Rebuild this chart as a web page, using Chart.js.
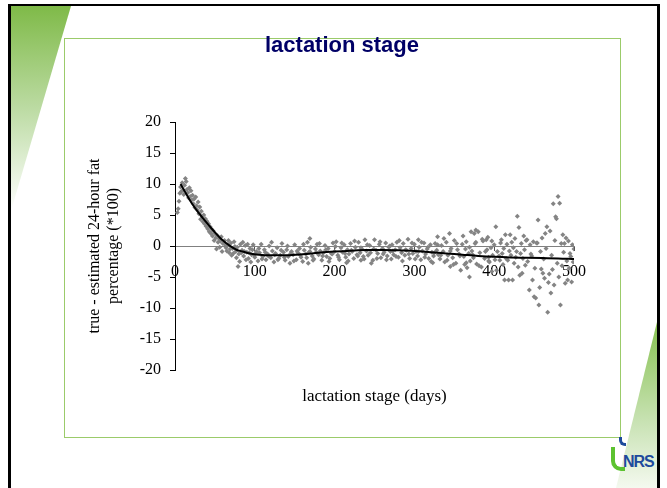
<!DOCTYPE html>
<html>
<head>
<meta charset="utf-8">
<script src="https://cdn.jsdelivr.net/npm/chart.js@4"></script>
<style>
  body { margin: 0; }
  #slide { position: relative; width: 667px; height: 488px; overflow: hidden; background: #fff; }
  .frame { position: absolute; left: 8px; top: 4px; width: 652px; height: 520px; box-sizing: border-box;
    border-style: solid; border-color: #000; border-width: 2px 3px 0 3px; }
  .tri-tl { position: absolute; left: 11px; top: 6px; width: 60px; height: 205px;
    background: linear-gradient(to bottom, #7fba48 0%, #bcdba3 50%, #ffffff 100%);
    clip-path: polygon(0 0, 100% 0, 0 100%); }
  .tri-br { position: absolute; left: 616px; top: 322px; width: 41px; height: 166px;
    background: linear-gradient(to bottom, #86c150 0%, #c8e2b3 60%, #f4f9ef 100%);
    clip-path: polygon(100% 0, 100% 100%, 0 100%); }
  .box { position: absolute; left: 64px; top: 38px; width: 557px; height: 400px; box-sizing: border-box;
    border: 1px solid #9bcb6a; }
  .logo { position: absolute; left: 623px; top: 453px; font: bold 16px "Liberation Sans", Arial, sans-serif;
    color: #1e4a9c; letter-spacing: -1px; white-space: nowrap; }
  .swoosh { position: absolute; left: 611px; top: 447px; width: 14px; height: 24px; box-sizing: border-box;
    border-left: 4px solid #5cc230; border-bottom: 4px solid #5cc230; border-bottom-left-radius: 10px; }
  .hook { position: absolute; left: 619px; top: 437px; width: 7px; height: 9px; box-sizing: border-box;
    border-left: 3px solid #1e4a9c; border-bottom: 3px solid #1e4a9c; border-bottom-left-radius: 6px; }
  canvas { position: absolute; left: 0; top: 0; }
</style>
</head>
<body>
<div id="slide">
  <div class="frame"></div>
  <div class="tri-tl"></div>
  <div class="box"></div>
  <div class="tri-br"></div>
  <div class="swoosh"></div>
  <div class="hook"></div>
  <div class="logo">NRS</div>
  <canvas id="myChart" width="667" height="488"></canvas>
</div>
<script>
// observations: lactation day and true - estimated fat (%*100)
const lactDays = [
  3, 4, 5, 6, 7, 8, 9, 10, 11, 12,
  13, 14, 15, 16, 17, 18, 19, 20, 21, 22,
  23, 24, 25, 26, 27, 28, 29, 30, 31, 32,
  33, 34, 35, 36, 37, 38, 39, 40, 41, 42,
  43, 44, 45, 46, 47, 48, 49, 50, 51, 52,
  53, 54, 55, 56, 57, 58, 59, 60, 62, 64,
  66, 68, 70, 71, 72, 74, 76, 78, 79, 80,
  81, 82, 84, 86, 88, 90, 92, 94, 96, 98,
  100, 102, 104, 106, 108, 110, 112, 114, 116, 118,
  120, 122, 124, 126, 128, 130, 132, 134, 136, 138,
  140, 142, 144, 146, 148, 150, 152, 154, 156, 158,
  160, 162, 164, 166, 167, 168, 169, 170, 172, 174,
  176, 178, 180, 182, 184, 186, 188, 190, 192, 194,
  196, 198, 200, 202, 204, 206, 208, 210, 212, 214,
  215, 216, 218, 220, 222, 224, 226, 228, 230, 232,
  233, 234, 236, 238, 240, 242, 244, 246, 248, 250,
  252, 254, 256, 258, 260, 262, 264, 266, 268, 270,
  271, 272, 274, 276, 278, 280, 282, 284, 286, 288,
  290, 292, 294, 296, 298, 300, 302, 304, 305, 306,
  308, 310, 312, 314, 316, 318, 320, 322, 323, 324,
  326, 328, 329, 330, 332, 334, 336, 338, 340, 342,
  344, 345, 346, 348, 350, 352, 354, 356, 358, 360,
  362, 363, 364, 365, 366, 368, 369, 370, 371, 372,
  374, 375, 376, 377, 378, 380, 382, 384, 386, 388,
  390, 391, 392, 393, 394, 396, 397, 398, 400, 401,
  402, 403, 404, 406, 407, 408, 409, 410, 411, 412,
  413, 414, 415, 416, 417, 418, 419, 420, 421, 422,
  423, 424, 425, 426, 427, 428, 429, 430, 431, 432,
  433, 434, 435, 436, 437, 438, 439, 440, 441, 442,
  444, 445, 446, 447, 448, 449, 450, 451, 452, 453,
  454, 455, 456, 457, 458, 459, 460, 461, 462, 463,
  464, 465, 466, 467, 468, 469, 470, 471, 472, 473,
  474, 475, 476, 477, 478, 479, 480, 481, 482, 483,
  484, 485, 486, 487, 488, 489, 490, 491, 492, 493,
  494, 495, 496, 497, 498, 499, 500,
  63, 65, 67, 69, 73, 75, 77, 83, 85, 87,
  89, 91, 93, 95, 97, 99,
  101, 105, 109, 113, 117, 121, 125, 129, 133, 137,
  141, 145, 149, 153, 157, 161, 165, 169, 173, 177,
  181, 185, 189, 193, 197, 201, 205, 209, 213, 217,
  221, 225, 229, 233, 237, 241, 245, 249, 253, 257,
  261, 265, 269, 273, 277, 281, 285, 289, 293, 297,
  301, 305, 309, 313, 317, 321, 325, 329, 333, 337,
  341, 345, 349, 353, 357, 361, 365, 369, 373, 377,
  381, 385, 389, 393, 397
];
const fatDiff = [
  5.4, 6.0, 7.2, 8.5, 9.5, 8.8, 10.2, 9.0, 8.3, 9.8,
  10.9, 10.4, 9.1, 8.6, 7.8, 9.4, 8.0, 8.9, 7.4, 8.2,
  6.8, 7.6, 6.2, 7.9, 6.5, 5.8, 7.1, 5.2, 6.3, 4.3,
  5.6, 4.8, 3.9, 5.0, 3.6, 4.4, 3.2, 4.0, 2.8, 3.6,
  2.3, 3.1, 2.0, 2.7, 1.6, 2.4, 0.9, 2.0, 1.3, -0.5,
  1.7, 0.6, 1.2, -0.2, 0.8, 1.5, -0.9, 0.4, 0.9, -0.3,
  0.2, -1.1, 0.5, -1.5, -0.4, 0.7, -0.9, -0.2, -3.3, -1.3,
  -2.5, 0.3, -0.7, -1.6, 0.1, -1.0, -2.0, -0.4, -1.4, 0.2,
  -1.8, -0.9, -2.4, -1.1, 0.3, -1.7, -0.6, -2.2, -1.3, 0.0,
  -1.9, -0.8, -2.6, -1.2, -0.3, -2.0, -1.5, 0.4, -1.0, -2.3,
  -0.6, -1.7, -2.8, -0.9, -1.4, 0.2, -2.2, -1.1, -0.4, -1.8,
  -2.5, -0.7, -1.3, 0.6, -2.8, -1.0, 1.2, -0.2, -1.6, -2.1,
  -0.5, 0.3, -1.4, -0.8, -2.3, -1.1, 0.1, -1.7, -0.4, -2.0,
  -1.2, 0.5, -0.9, 0.7, -1.5, -2.2, -0.3, -1.0, 0.2, -1.8,
  -2.7, -0.6, -1.3, 0.4, -0.9, -2.0, -0.2, -1.4, 0.6, -1.1,
  -2.3, -0.5, -1.7, 1.0, -0.8, -1.5, 0.1, -2.8, -2.3, 1.0,
  -0.7, -1.2, 0.3, -1.9, -0.4, -1.0, 0.5, -1.6, -0.2, -0.9,
  -2.1, 0.2, -1.4, -0.6, 0.6, -1.8, -0.3, -1.1, 0.4, -1.5,
  -0.7, 1.1, -2.0, -0.4, -1.2, 0.3, -0.9, -1.6, 1.0, -0.2,
  -2.2, -0.8, 0.5, -1.3, -0.5, -2.0, 0.2, -1.0, -2.7, -1.6,
  0.4, -0.7, 1.5, -1.4, -2.1, 0.1, -0.9, -2.6, 0.6, -1.5,
  2.0, -3.3, -0.4, -1.9, 0.9, -2.8, -0.6, -1.3, -3.9, 0.3,
  -1.7, -3.0, -0.5, 0.7, -3.5, -1.2, -5.0, -2.4, 2.3, -0.8,
  -1.9, 2.0, 0.4, 2.6, -2.9, 2.3, -1.1, -3.4, 0.8, -2.0,
  1.0, -0.6, 1.4, -1.8, -2.6, -0.3, -4.1, -1.5, 0.2, -2.2,
  3.1, -3.9, -0.9, -1.6, -2.3, 0.5, 1.0, -1.2, -3.0, -0.4,
  -5.5, 1.8, -2.0, 0.3, -2.3, -5.5, -0.8, 1.8, -1.5, 0.6,
  -5.5, -0.3, -2.8, 1.2, -1.8, -0.9, 4.8, -3.4, 3.0, -4.7,
  -1.2, 0.4, -4.4, -2.0, 1.6, -0.6, -3.1, 0.9, 1.0, -2.5,
  -7.1, 0.2, -1.3, -1.6, -5.5, 0.7, -8.2, -3.6, -8.4, 0.5,
  0.5, 4.2, -9.5, -6.7, -0.9, -3.7, 1.3, -4.4, -2.1, -5.2,
  2.0, -0.4, 3.1, -10.7, -5.9, -4.5, 2.4, -7.6, -1.5, -3.8,
  6.8, -6.3, 0.9, 4.7, 4.4, -2.8, 8.0, -5.0, 6.9, -9.5,
  0.4, -3.2, 1.8, -1.0, 0.4, -6.0, 1.3, -2.4, -5.5, 0.8,
  -3.6, -1.2, -1.7, -5.8, 0.2, -2.6, -0.5,
  0.2, -0.8, 0.9, -0.5, -1.2, -0.1, -1.9, -1.1, 0.6, -0.9,
  -2.2, 0.3, -1.1, -2.6, -0.6, -1.5,
  -1.2, -0.4, -2.1, -1.0, -1.6, 0.6, -1.4, -2.2, -0.7, -1.8,
  0.0, -1.2, -2.4, -0.8, -1.5, 0.3, -1.9, -0.9, -2.3, -1.0,
  0.4, -1.6, -0.6, -2.5, -1.3, -0.1, -1.8, 0.5, -1.2, -2.4,
  -0.7, 0.8, -1.6, -0.3, -2.1, 0.2, -1.1, -0.5, -2.0, 0.7,
  -1.3, -2.2, 0.0, -0.8, -1.7, 0.9, -2.4, -0.6, -1.3, 0.5,
  -2.1, -0.9, 0.6, -1.8, -0.2, -2.5, -1.1, 0.2, -1.5, 1.2,
  -2.3, -0.8, -3.0, 0.4, -1.6, 1.6, -2.7, -0.2, -1.4, 0.6,
  -3.2, 1.1, -0.9, -2.4, 0.8
];

// fitted curve
const trendDays = [7, 15, 21, 30, 38, 48, 59, 68, 77, 85, 94, 105, 120, 140, 160, 180,
  200, 220, 240, 260, 280, 300, 320, 340, 360, 380, 400, 420, 440, 460, 480, 500];
const trendVals = [10.0, 8.2, 6.9, 5.3, 4.0, 2.5, 1.0, 0.1, -0.6, -0.9, -1.2, -1.4, -1.5, -1.5, -1.35, -1.1,
  -0.9, -0.75, -0.65, -0.65, -0.7, -0.8, -1.0, -1.2, -1.4, -1.6, -1.75, -1.85, -1.9, -1.95, -2.0, -2.1];

const yTicks = [-20, -15, -10, -5, 0, 5, 10, 15, 20];
const xTicks = [0, 100, 200, 300, 400, 500];

const serif = "'Liberation Serif', 'Times New Roman', serif";

const scatterPts = lactDays.map((d, i) => ({ x: d, y: fatDiff[i] }));
const trendPts = trendDays.map((d, i) => ({ x: d, y: trendVals[i] }));

new Chart(document.getElementById("myChart"), {
  type: "scatter",
  data: {
    datasets: [
      {
        label: "fit",
        data: trendPts,
        showLine: true,
        borderColor: "#000",
        borderWidth: 2,
        pointRadius: 0,
        tension: 0.4,
        cubicInterpolationMode: "monotone",
        order: 0,
      },
      {
        label: "obs",
        data: scatterPts,
        pointStyle: "rectRot",
        pointRadius: 2.5,
        backgroundColor: "#848484",
        borderWidth: 0,
        order: 1,
      },
    ],
  },
  options: {
    responsive: false,
    animation: false,
    devicePixelRatio: 1,
    layout: { padding: { left: 17, right: 0, top: 0, bottom: 0 } },
    plugins: {
      legend: { display: false },
      tooltip: { enabled: false },
      title: {
        display: true,
        text: "lactation stage",
        color: "#000066",
        font: { family: "'Liberation Sans', Arial, sans-serif", size: 22, weight: "bold", lineHeight: 1.2 },
        padding: { top: 33, bottom: 62.6 },
      },
      subtitle: {
        display: true,
        position: "bottom",
        fullSize: false,
        text: "lactation stage (days)",
        color: "#000",
        font: { family: serif, size: 17, lineHeight: 1.2 },
        padding: { top: 16.8, bottom: 80.8 },
      },
    },
    scales: {
      x: {
        type: "linear",
        position: { y: 0 },
        min: 0,
        max: 500,
        afterBuildTicks: (axis) => { axis.ticks = xTicks.map((v) => ({ value: v })); },
        grid: { display: true, drawOnChartArea: false, drawTicks: true, tickLength: 4, color: "#555" },
        border: { color: "#808080", width: 1 },
        ticks: { color: "#000", font: { family: serif, size: 16 }, padding: 12, maxRotation: 0 },
      },
      y: {
        type: "linear",
        position: "left",
        min: -20,
        max: 20,
        afterBuildTicks: (axis) => { axis.ticks = yTicks.map((v) => ({ value: v })); },
        afterFit: (axis) => { axis.width = 158; },
        grid: { display: true, drawOnChartArea: false, drawTicks: true, tickLength: 5, color: "#000" },
        border: { color: "#000", width: 1 },
        ticks: { color: "#000", font: { family: serif, size: 16 }, padding: 9 },
        title: {
          display: true,
          text: ["true - estimated 24-hour fat", "percentage (*100)"],
          color: "#000",
          font: { family: serif, size: 16, lineHeight: 1.15 },
          padding: { top: 69, bottom: 0 },
        },
      },
      // empty right-hand box that keeps the plot area narrower
      yRight: {
        type: "linear",
        position: "right",
        min: -20,
        max: 20,
        afterFit: (axis) => { axis.width = 93; },
        grid: { display: false },
        border: { display: false },
        ticks: { display: false },
      },
    },
  },
});
</script>
</body>
</html>
